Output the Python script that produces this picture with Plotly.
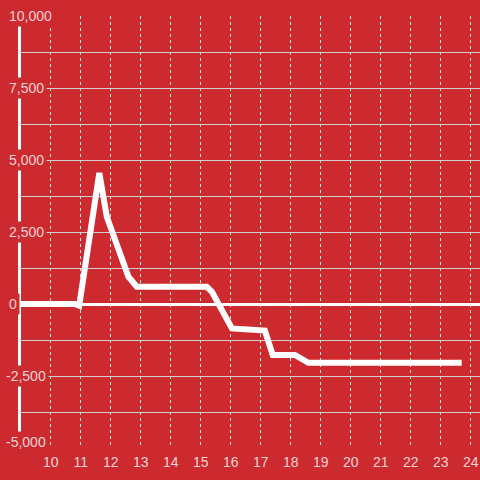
import plotly.graph_objects as go

# data
hours = [9.0, 10.81, 10.95, 11.62, 11.87, 12.59, 12.87, 15.2, 15.37, 16.04, 17.14, 17.4, 18.14, 18.59, 23.7]
values = [0, 0, -60, 4550, 3030, 950, 600, 600, 430, -850, -920, -1770, -1770, -2040, -2040]
y_ticks = [-5000, -2500, 0, 2500, 5000, 7500, 10000]
y_tick_labels = ["-5,000", "-2,500", "0", "2,500", "5,000", "7,500", "10,000"]
x_ticks = list(range(10, 25))

BG = "#cd2a30"
TXT = "#f3d2d3"
GRID = "#cfcfcf"
VGRID = "#e6e6e6"

L, R, T, B = 21, 0, 16, 32
W = 480 - L - R

fig = go.Figure()
fig.add_trace(go.Scatter(x=hours, y=values, mode="lines",
                         line=dict(color="white", width=6, shape="linear"),
                         hoverinfo="skip", showlegend=False))

fig.update_layout(
    width=480, height=480,
    margin=dict(l=L, r=R, t=T, b=B, autoexpand=False),
    paper_bgcolor=BG, plot_bgcolor=BG,
    font=dict(family="Liberation Sans, Arial, sans-serif", size=14, color=TXT),
    showlegend=False,
)
fig.update_xaxes(
    range=[10 - (50.7 - L) / 30, 24.31],
    tickvals=x_ticks, ticktext=[str(v) for v in x_ticks],
    showgrid=True, gridcolor=VGRID, gridwidth=1, griddash="dot",
    zeroline=False, showline=False, ticks="",
    tickfont=dict(size=14, color=TXT),
    ticklabelstandoff=4,
)
fig.update_yaxes(
    range=[-5000, 10000],
    tickvals=y_ticks, showticklabels=False,
    showgrid=True, gridcolor=GRID, gridwidth=1,
    minor=dict(dtick=1250, tick0=0, showgrid=True, gridcolor=GRID, gridwidth=1, ticks=""),
    zeroline=True, zerolinecolor="white", zerolinewidth=3,
    showline=True, linecolor="white", linewidth=3,
    ticks="",
)

for v, lab in zip(y_ticks, y_tick_labels):
    px = 3 if lab.startswith("-") else 6
    fig.add_annotation(
        x=(px - L) / W, xref="paper", xanchor="left",
        y=v, yref="y", yanchor="middle",
        yshift=6 if v == y_ticks[0] else 0,
        text=lab, showarrow=False, bgcolor=BG, borderpad=2,
        font=dict(size=14, color=TXT),
    )

fig.write_html(
    "out.html",
    config={"displayModeBar": False},
    post_script="document.body.style.margin='0';document.body.style.overflow='hidden';document.body.style.background='" + BG + "';",
)
